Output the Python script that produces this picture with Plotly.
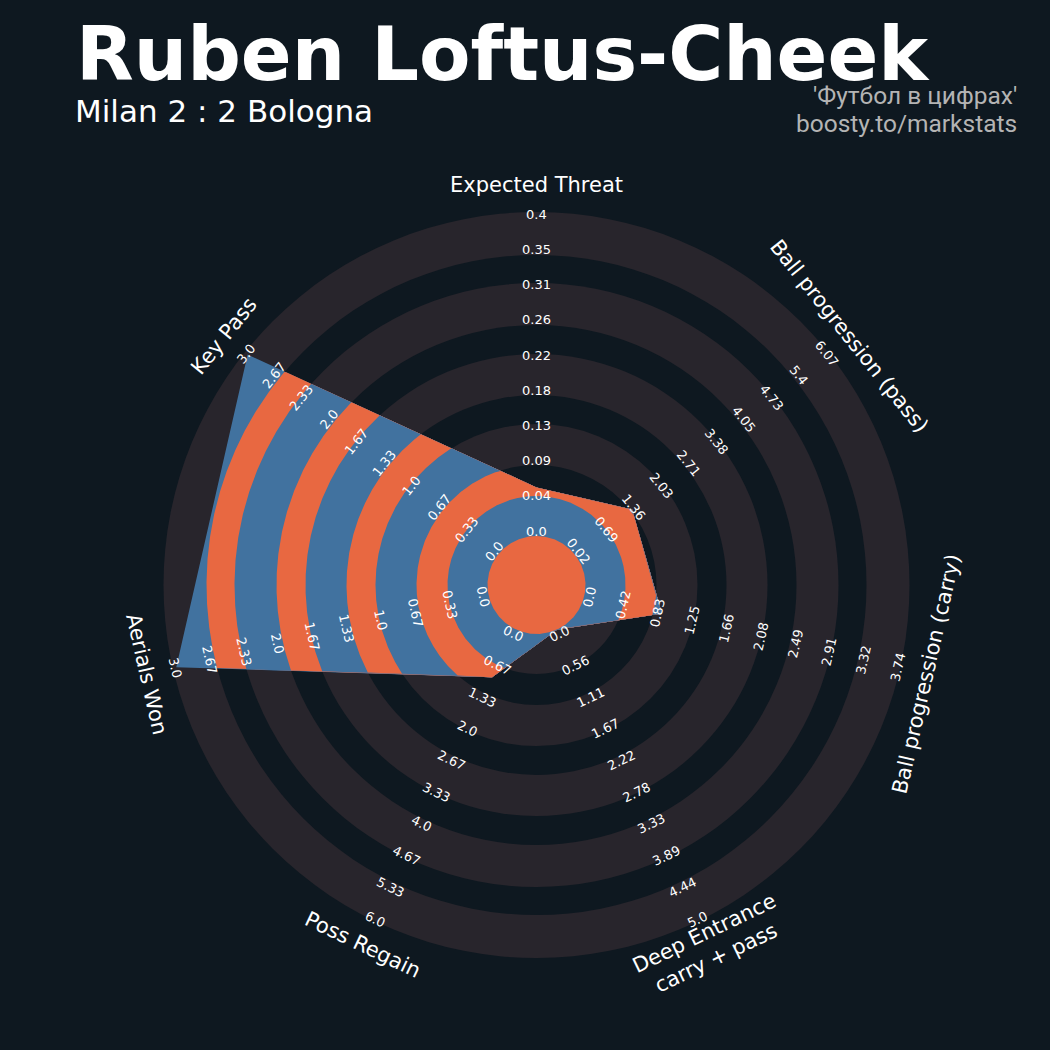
import numpy as np
import plotly.graph_objects as go

# ---- data -------------------------------------------------------------
params = ["Expected Threat", "Ball progression (pass)", "Ball progression (carry)",
          "Deep Entrance<br>carry + pass", "Poss Regain", "Aerials Won", "Key Pass"]
low = [0.0, 0.02, 0.0, 0.0, 0.0, 0.0, 0.0]
high = [0.396, 6.07, 3.74, 5.0, 6.0, 3.0, 3.0]
values = [0.06, 1.40, 0.93, 0.0, 1.0, 3.0, 3.0]

ticks_xthreat = ["0.0", "0.04", "0.09", "0.13", "0.18", "0.22", "0.26", "0.31", "0.35", "0.4"]
ticks_prog_pass = ["0.02", "0.69", "1.36", "2.03", "2.71", "3.38", "4.05", "4.73", "5.4", "6.07"]
ticks_prog_carry = ["0.0", "0.42", "0.83", "1.25", "1.66", "2.08", "2.49", "2.91", "3.32", "3.74"]
ticks_deep = ["0.0", "0.56", "1.11", "1.67", "2.22", "2.78", "3.33", "3.89", "4.44", "5.0"]
ticks_regain = ["0.0", "0.67", "1.33", "2.0", "2.67", "3.33", "4.0", "4.67", "5.33", "6.0"]
ticks_aerials = ["0.0", "0.33", "0.67", "1.0", "1.33", "1.67", "2.0", "2.33", "2.67", "3.0"]
ticks_keypass = ["0.0", "0.33", "0.67", "1.0", "1.33", "1.67", "2.0", "2.33", "2.67", "3.0"]

title = "Ruben Loftus-Cheek"
subtitle = "Milan 2 : 2 Bologna"
credit_1 = "'Футбол в цифрах'"
credit_2 = "boosty.to/markstats"

# ---- style ------------------------------------------------------------
BG = "#0e1820"
RING = "#28252c"
BLUE = "#41729f"
ORANGE = "#e86841"
CREDIT = "#b4b4b4"
FONT = "DejaVu Sans"

W = H = 1050
CX, CY = 536.5, 585.0          # radar centre (page pixels from top-left)
R_CENTER = 49.0                 # radius of the inner circle
R_MAX = 369.5                   # radius of a value equal to the range maximum
# outer edges of the background bands, outermost first; light, dark, light, ...
BAND_EDGES = [373, 330, 302, 260, 231, 190, 161, 120, 89]
LABEL_R0, LABEL_STEP = 54.0, 35.2
PARAM_R = 400.0

tick_sets = [ticks_xthreat, ticks_prog_pass, ticks_prog_carry, ticks_deep,
             ticks_regain, ticks_aerials, ticks_keypass]

n = len(params)
alpha = np.deg2rad(np.arange(n) * 360.0 / n)     # compass angle, clockwise from top
lo, hi, val = np.array(low), np.array(high), np.array(values)
frac = (val - lo) / (hi - lo)
rad = R_CENTER + frac * (R_MAX - R_CENTER)
verts = np.stack([rad * np.sin(alpha), rad * np.cos(alpha)], axis=1)


def polygon_radius(theta):
    """Distance from the centre to the radar outline along each compass angle."""
    step = 2 * np.pi / n
    idx = np.floor((theta % (2 * np.pi)) / step).astype(int) % n
    p1 = verts[idx]
    p2 = verts[(idx + 1) % n]
    e = p2 - p1
    d = np.stack([np.sin(theta), np.cos(theta)], axis=1)
    num = p1[:, 0] * e[:, 1] - p1[:, 1] * e[:, 0]
    den = d[:, 0] * e[:, 1] - d[:, 1] * e[:, 0]
    return num / den


theta = np.union1d(np.linspace(0, 2 * np.pi, 2401)[:-1], alpha)
r_poly = polygon_radius(theta)

fig = go.Figure()

# background bands
shapes = []
for k, edge in enumerate(BAND_EDGES):
    shapes.append(dict(type="circle", xref="x", yref="y", x0=-edge, y0=-edge, x1=edge, y1=edge,
                       fillcolor=RING if k % 2 == 0 else BG, line=dict(width=0), layer="below"))

# radar fill: each disc clipped to the outline, painted outermost first
for k, edge in enumerate(BAND_EDGES):
    rr = np.minimum(edge, r_poly)
    fig.add_trace(go.Scatter(x=np.append(rr * np.sin(theta), rr[0] * np.sin(theta[0])),
                             y=np.append(rr * np.cos(theta), rr[0] * np.cos(theta[0])),
                             mode="lines", line=dict(width=0), fill="toself",
                             fillcolor=BLUE if k % 2 == 0 else ORANGE,
                             hoverinfo="skip", showlegend=False))

circ = np.linspace(0, 2 * np.pi, 361)
fig.add_trace(go.Scatter(x=R_CENTER * np.sin(circ), y=R_CENTER * np.cos(circ),
                         mode="lines", line=dict(width=0), fill="toself", fillcolor=ORANGE,
                         hoverinfo="skip", showlegend=False))


def text_angle(a_deg):
    if a_deg <= 90:
        return a_deg
    if a_deg < 270:
        return a_deg - 180
    return a_deg - 360


annotations = []
for i in range(n):
    a = alpha[i]
    ang = text_angle(np.rad2deg(a))
    for k, lab in enumerate(tick_sets[i]):
        r = LABEL_R0 + k * LABEL_STEP
        annotations.append(dict(x=r * np.sin(a), y=r * np.cos(a), xref="x", yref="y",
                                text=lab, showarrow=False, textangle=ang,
                                xanchor="center", yanchor="middle",
                                font=dict(family=FONT, size=13, color="white")))
    annotations.append(dict(x=PARAM_R * np.sin(a), y=PARAM_R * np.cos(a), xref="x", yref="y",
                            text=params[i], showarrow=False, textangle=ang,
                            xanchor="center", yanchor="middle",
                            font=dict(family=FONT, size=21, color="white")))


def px(x, y):
    return x / W, 1 - y / H


tx, ty = px(74, 54)
annotations.append(dict(x=tx, y=ty, xref="paper", yref="paper", text=title, showarrow=False,
                        xanchor="left", yanchor="middle",
                        font=dict(family=FONT, size=75, color="white", weight=700)))
sx, sy = px(73, 111)
annotations.append(dict(x=sx, y=sy, xref="paper", yref="paper", text=subtitle, showarrow=False,
                        xanchor="left", yanchor="middle",
                        font=dict(family=FONT, size=31, color="white")))
c1x, c1y = px(1019, 95)
annotations.append(dict(x=c1x, y=c1y, xref="paper", yref="paper", text=credit_1, showarrow=False,
                        xanchor="right", yanchor="middle",
                        font=dict(family="Roboto", size=24.5, color=CREDIT)))
c2x, c2y = px(1019, 123.5)
annotations.append(dict(x=c2x, y=c2y, xref="paper", yref="paper", text=credit_2, showarrow=False,
                        xanchor="right", yanchor="middle",
                        font=dict(family="Roboto", size=24.5, color=CREDIT)))

fig.update_layout(
    width=W, height=H,
    margin=dict(l=0, r=0, t=0, b=0, pad=0),
    paper_bgcolor=BG, plot_bgcolor=BG,
    xaxis=dict(range=[-CX, W - CX], visible=False, fixedrange=True),
    yaxis=dict(range=[CY - H, CY], visible=False, fixedrange=True),
    shapes=shapes, annotations=annotations, showlegend=False,
)

fig.write_html("out.html")
